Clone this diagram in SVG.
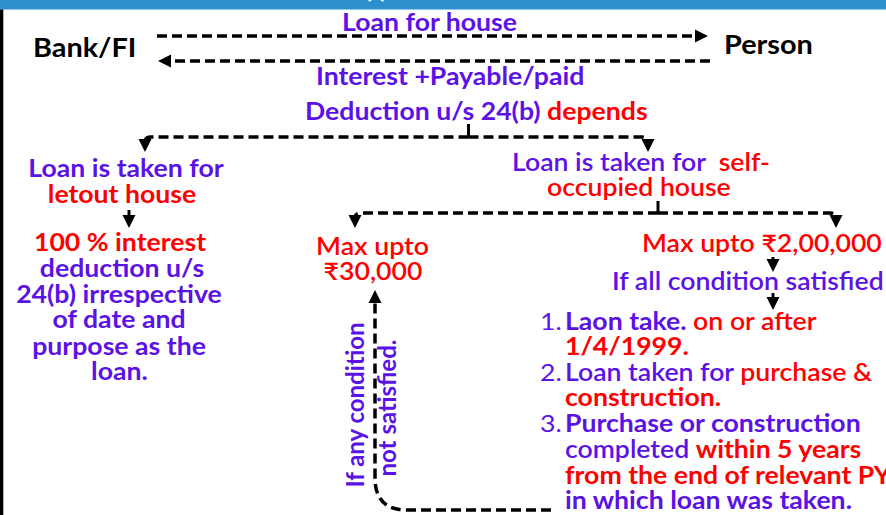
<svg xmlns="http://www.w3.org/2000/svg" width="886" height="515" viewBox="0 0 886 515">
<defs>
<style>
text{font-family:Lato,"Open Sans","Liberation Sans",sans-serif;font-weight:700;font-size:24px}
.p{fill:#5a12e6}
.r{fill:#ff0000}
.k{fill:#000}
.m{font-weight:600}
.n{font-weight:400}
.d{fill:none;stroke:#000;stroke-width:3.5;stroke-dasharray:10 5}
.s{fill:none;stroke:#000;stroke-width:3}
</style>
<marker id="ah" markerUnits="userSpaceOnUse" markerWidth="16" markerHeight="16" viewBox="0 0 16 16" refX="3" refY="8" orient="auto">
<path d="M0,1.5 L13,8 L0,14.5 Z" fill="#000"/>
</marker>
</defs>
<rect x="0" y="0" width="886" height="515" fill="#fff"/>
<rect x="0" y="0" width="886" height="9.5" fill="#2d8fcb"/>
<text x="364" y="-3" fill="#fff" style="font-size:30px">(i)</text>
<rect x="0" y="9.5" width="3.3" height="505.5" fill="#000"/>

<g id="connectors">
<path class="d" d="M157,36 H698" marker-end="url(#ah)"/>
<path class="d" d="M710,61 H168" marker-end="url(#ah)"/>
<path class="s" d="M468.5,124 V137"/>
<path class="d" d="M468.5,137 H151 Q145,137 145,142" marker-end="url(#ah)"/>
<path class="d" d="M468.5,137 H642 Q648,137 648,142" marker-end="url(#ah)"/>
<path class="s" d="M129,210 V218" marker-end="url(#ah)"/>
<path class="s" d="M658,201 V213"/>
<path class="d" d="M658,213 H361 Q355,213 355,218" marker-end="url(#ah)"/>
<path class="d" d="M658,213 H830 Q836,213 836,218" marker-end="url(#ah)"/>
<path class="s" d="M773,257 V262" marker-end="url(#ah)"/>
<path class="s" d="M773,293 V300" marker-end="url(#ah)"/>
<path class="d" d="M551,510 H407 Q375,510 375,478 V300" marker-end="url(#ah)"/>
</g>

<g id="bank"><text class="k" transform="matrix(1.11 0 0 1 33 57)" style="font-size:26px">Bank/FI</text></g>
<g id="person"><text class="k" transform="matrix(1.11 0 0 1 724 54)" style="font-size:26px">Person</text></g>
<g id="loan-label"><text class="p" transform="matrix(1.11 0 0 1 342 31)">Loan for house</text></g>
<g id="interest-label"><text class="p" transform="matrix(1.11 0 0 1 316 85)">Interest +Payable/paid</text></g>
<g id="deduction"><text class="p" transform="matrix(1.11 0 0 1 305 120)">Deduction u/s 24(b) <tspan class="r">depends</tspan></text></g>

<g id="letout" text-anchor="middle">
<text class="p" transform="matrix(1.11 0 0 1 126 177)">Loan is taken for</text>
<text class="r" transform="matrix(1.11 0 0 1 122 203)">letout house</text>
</g>
<g id="letout-result" text-anchor="middle">
<text class="r" transform="matrix(1.11 0 0 1 120 251)">100 % interest</text>
<text class="p" transform="matrix(1.11 0 0 1 122 277)">deduction u/s</text>
<text class="p" transform="matrix(1.11 0 0 1 119 303)">24(b) irrespective</text>
<text class="p" transform="matrix(1.11 0 0 1 119 328)">of date and</text>
<text class="p" transform="matrix(1.11 0 0 1 119 355)">purpose as the</text>
<text class="p" transform="matrix(1.11 0 0 1 119.5 380)">loan.</text>
</g>

<g id="self-occupied">
<text class="p m" xml:space="preserve" transform="matrix(1.11 0 0 1 512 171)">Loan is taken for  <tspan class="r">self-</tspan></text>
<text class="r m" transform="matrix(1.11 0 0 1 547 196)">occupied house</text>
</g>

<g id="max30k" text-anchor="middle">
<text class="r m" transform="matrix(1.11 0 0 1 372.5 255)">Max upto</text>
<text class="r m" transform="matrix(1.11 0 0 1 373 280)">₹30,000</text>
</g>

<g id="max2l"><text class="r m" transform="matrix(1.11 0 0 1 642 252)">Max upto ₹2,00,000</text></g>
<g id="all-cond"><text class="p m" transform="matrix(1.11 0 0 1 612 290)">If all condition satisfied</text></g>

<g id="any-cond" text-anchor="middle">
<text class="p" transform="translate(364,405) rotate(-90)">If any condition</text>
<text class="p" transform="translate(396,408) rotate(-90)">not satisfied.</text>
</g>

<g id="conditions">
<text class="p n" transform="matrix(1.11 0 0 1 540 330)">1.</text>
<text class="p" transform="matrix(1.11 0 0 1 565 330)">Laon take. <tspan class="r m">on or after</tspan></text>
<text class="r" transform="matrix(1.11 0 0 1 565 355)">1/4/1999.</text>
<text class="p n" transform="matrix(1.11 0 0 1 540 381)">2.</text>
<text class="p m" transform="matrix(1.11 0 0 1 565 381)">Loan taken for <tspan class="r">purchase &amp;</tspan></text>
<text class="r" transform="matrix(1.11 0 0 1 565 406)">construction.</text>
<text class="p n" transform="matrix(1.11 0 0 1 540 432)">3.</text>
<text class="p" transform="matrix(1.11 0 0 1 565 432)">Purchase or construction</text>
<text class="p m" transform="matrix(1.11 0 0 1 565 458)">completed <tspan class="r" style="font-weight:700">within 5 years</tspan></text>
<text class="r" transform="matrix(1.11 0 0 1 565 484)">from the end of relevant PY</text>
<text class="p" transform="matrix(1.11 0 0 1 565 509)">in which loan was taken.</text>
</g>
</svg>
